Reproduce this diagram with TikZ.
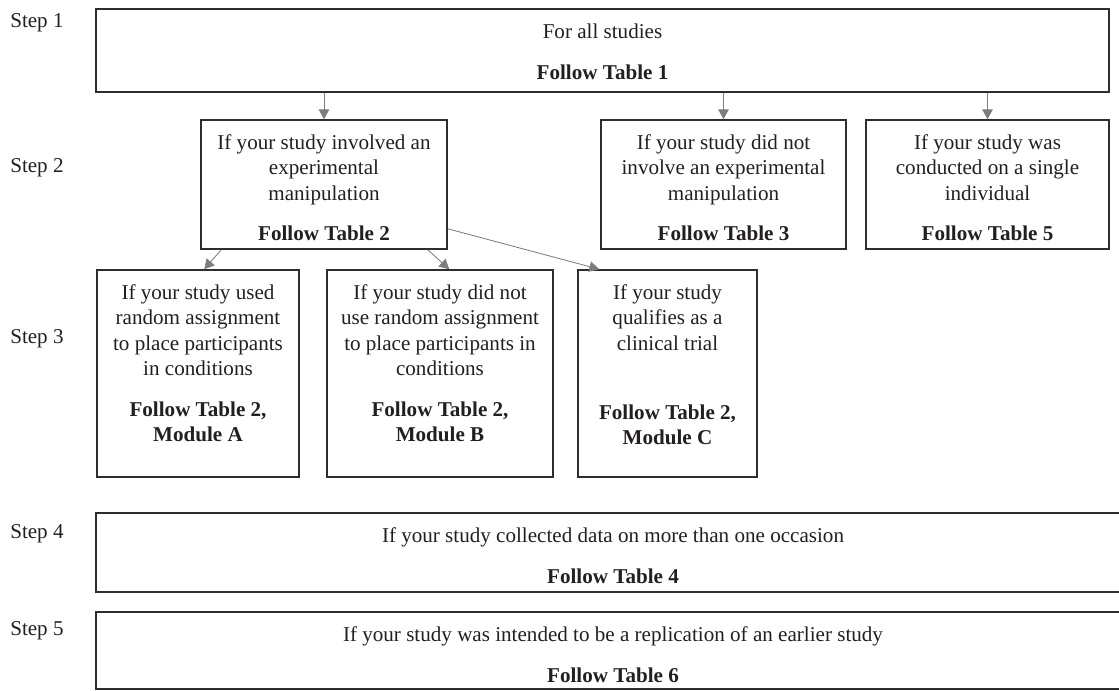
\documentclass[tikz,border=0pt]{standalone}
\usepackage{fontspec}
\setmainfont{Liberation Serif}
\usepackage{tikz}
\usetikzlibrary{arrows.meta, positioning, calc}
\definecolor{boxline}{RGB}{45,45,45}
\definecolor{arrowgray}{RGB}{125,125,125}
\definecolor{txtdark}{RGB}{35,31,32}
\tikzset{
  stepbox/.style={rectangle, draw=boxline, line width=1.1pt, inner sep=0pt},
  boxtxt/.style={align=center, inner sep=0pt, text=txtdark,
    font=\fontsize{15}{18}\selectfont},
  steplabel/.style={anchor=base west, inner sep=0pt, text=txtdark,
    font=\fontsize{15}{18}\selectfont},
  arrow/.style={-{Triangle[length=7pt,width=7.5pt]}, line width=0.6pt, color=arrowgray}
}

\begin{document}
\begin{tikzpicture}
  \useasboundingbox (0,0) rectangle (27.975,-17.25);

  % step labels
  \node[steplabel] (lab1) at (0.25,-0.675) {Step 1};
  \node[steplabel] (lab2) at (0.25,-4.3) {Step 2};
  \node[steplabel] (lab3) at (0.25,-8.575) {Step 3};
  \node[steplabel] (lab4) at (0.25,-13.45) {Step 4};
  \node[steplabel] (lab5) at (0.25,-15.875) {Step 5};

  % step 1
  \node[stepbox, minimum width=25.325cm, minimum height=2.075cm] (s1) at (15.0625,-1.2625) {};
  \node[boxtxt, below=0.38cm of s1.north] (s1txt) {For all studies\\[11pt]\textbf{Follow Table 1}};

  % step 2
  \node[stepbox, minimum width=6.15cm, minimum height=3.225cm] (s2a) at (8.1,-4.6125) {};
  \node[stepbox, minimum width=6.125cm, minimum height=3.225cm] (s2b) at (18.0875,-4.6125) {};
  \node[stepbox, minimum width=6.075cm, minimum height=3.225cm] (s2c) at (24.6875,-4.6125) {};
  \node[boxtxt, below=0.38cm of s2a.north] (s2atxt)
    {If your study involved an\\experimental\\manipulation\\[11pt]\textbf{Follow Table 2}};
  \node[boxtxt, below=0.38cm of s2b.north] (s2btxt)
    {If your study did not\\involve an experimental\\manipulation\\[11pt]\textbf{Follow Table 3}};
  \node[boxtxt, below=0.38cm of s2c.north] (s2ctxt)
    {If your study was\\conducted on a single\\individual\\[11pt]\textbf{Follow Table 5}};

  % step 3
  \node[stepbox, minimum width=5.05cm, minimum height=5.175cm] (s3a) at (4.95,-9.3375) {};
  \node[stepbox, minimum width=5.65cm, minimum height=5.175cm] (s3b) at (11.0,-9.3375) {};
  \node[stepbox, minimum width=4.475cm, minimum height=5.175cm] (s3c) at (16.6875,-9.3375) {};
  \node[boxtxt, below=0.38cm of s3a.north] (s3atxt)
    {If your study used\\random assignment\\to place participants\\in conditions\\[11pt]%
     \textbf{Follow Table 2,}\\\textbf{Module A}};
  \node[boxtxt, below=0.38cm of s3b.north] (s3btxt)
    {If your study did not\\use random assignment\\to place participants in\\conditions\\[11pt]%
     \textbf{Follow Table 2,}\\\textbf{Module B}};
  \node[boxtxt, below=0.38cm of s3c.north] (s3ctxt)
    {If your study\\qualifies as a\\clinical trial\\[31pt]%
     \textbf{Follow Table 2,}\\\textbf{Module C}};

  % steps 4 and 5
  \node[stepbox, minimum width=25.85cm, minimum height=1.975cm] (s4) at (15.325,-13.8125) {};
  \node[boxtxt, below=0.38cm of s4.north] (s4txt)
    {If your study collected data on more than one occasion\\[11pt]\textbf{Follow Table 4}};
  \node[stepbox, minimum width=25.85cm, minimum height=1.925cm] (s5) at (15.325,-16.2625) {};
  \node[boxtxt, below=0.38cm of s5.north] (s5txt)
    {If your study was intended to be a replication of an earlier study\\[11pt]\textbf{Follow Table 6}};

  % arrows
  \draw[arrow] (s1.south -| s2a.north) -- (s2a.north);
  \draw[arrow] (s1.south -| s2b.north) -- (s2b.north);
  \draw[arrow] (s1.south -| s2c.north) -- (s2c.north);
  \draw[arrow] ([xshift=0.525cm]s2a.south west) -- ([xshift=2.7cm]s3a.north west);
  \draw[arrow] ([xshift=-0.5cm]s2a.south east) -- ([xshift=3.075cm]s3b.north west);
  \draw[arrow] ([yshift=0.525cm]s2a.south east) -- ([xshift=0.55cm]s3c.north west);
\end{tikzpicture}
\end{document}
